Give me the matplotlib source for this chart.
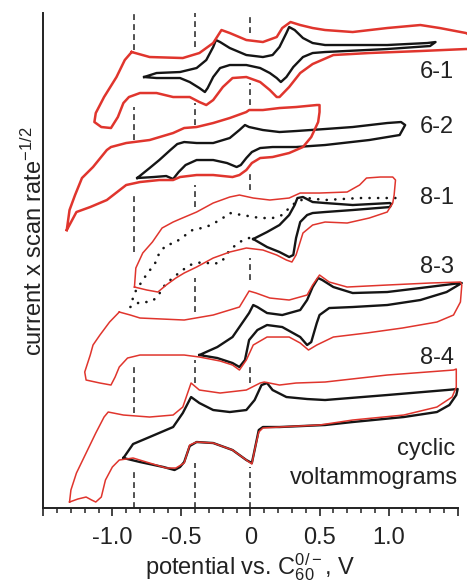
import matplotlib
matplotlib.use("Agg")
import matplotlib.pyplot as plt
from matplotlib.ticker import FixedLocator, MultipleLocator, FixedFormatter

plt.rcParams['font.family'] = ['Liberation Sans', 'DejaVu Sans']
plt.rcParams['mathtext.fontset'] = 'custom'
plt.rcParams['mathtext.rm'] = 'Liberation Sans'
plt.rcParams['mathtext.it'] = 'Liberation Sans:italic'
plt.rcParams['mathtext.default'] = 'rm'

# potential (V vs C60 0/-) and stacked current (a.u.) for each voltammogram
v61_red = [-0.86, -0.73, -0.49, -0.37, -0.27, -0.21, -0.15, -0.03, 0.09, 0.19, 0.23, 0.29, 0.36, 0.45,
           0.54, 0.74, 0.99, 1.23, 1.37, 1.56, 1.60,
           1.60, 1.56, 1.23, 0.86, 0.60, 0.45, 0.36, 0.28, 0.21, 0.19, 0.14, 0.07, -0.03, -0.13, -0.20,
           -0.27, -0.32, -0.37, -0.44, -0.56, -0.68, -0.80, -0.88, -0.92, -0.96, -1.01, -1.08, -1.13,
           -1.12, -1.06, -0.97, -0.91, -0.86]
i61_red = [456, 451, 450, 455, 465, 478, 475, 468, 466, 471, 480, 486, 483, 480,
           478, 476, 480, 483, 480, 475, 472,
           459, 459, 457, 455, 453, 444, 435, 421, 411, 411, 418, 426, 431, 430, 421,
           408, 403, 406, 411, 411, 415, 415, 411, 405, 391, 380, 381, 386,
           395, 411, 431, 448, 456]

v61_blk = [-0.77, -0.68, -0.51, -0.39, -0.32, -0.27, -0.25, -0.22, -0.15, -0.03, 0.09, 0.16, 0.21, 0.26,
           0.28, 0.32, 0.38, 0.45, 0.54, 0.99, 1.28, 1.34,
           1.30, 0.99, 0.54, 0.45, 0.38, 0.31, 0.26, 0.22, 0.19, 0.14, 0.07, -0.03, -0.15, -0.22,
           -0.27, -0.31, -0.33, -0.37, -0.44, -0.51, -0.68, -0.77]
i61_blk = [431, 435, 436, 440, 448, 461, 468, 466, 460, 453, 451, 453, 461, 475,
           481, 478, 470, 465, 463, 463, 465, 466,
           462, 459, 456, 455, 451, 441, 431, 426, 430, 435, 440, 443, 443, 440,
           431, 420, 416, 420, 426, 430, 430, 431]

v62_red = [-1.33, -1.31, -1.27, -1.22, -1.14, -1.04, -1.01, -0.90, -0.73, -0.56, -0.48, -0.39, -0.27,
           -0.15, -0.03, -0.01, 0.09, 0.21, 0.33, 0.48, 0.50,
           0.50, 0.49, 0.44, 0.38, 0.28, 0.16, 0.07, 0.01, -0.03, -0.08, -0.13, -0.27, -0.39, -0.51,
           -0.56, -0.66, -0.80, -0.90, -1.04, -1.16, -1.26, -1.33]
i62_red = [278, 298, 313, 330, 341, 358, 361, 365, 368, 375, 380, 381, 385,
           390, 396, 398, 398, 400, 401, 403, 403,
           396, 386, 371, 361, 355, 351, 350, 345, 338, 333, 331, 333, 333, 331,
           328, 328, 326, 323, 308, 301, 296, 278]

v62_blk = [-0.82, -0.73, -0.66, -0.58, -0.53, -0.48, -0.39, -0.27, -0.15, -0.08, -0.04, -0.01, 0.09,
           0.21, 0.33, 0.54, 0.74, 0.99, 1.09, 1.12,
           1.08, 0.86, 0.54, 0.33, 0.16, 0.07, 0.01, -0.03, -0.07, -0.10, -0.17, -0.27, -0.39, -0.47,
           -0.52, -0.56, -0.61, -0.70, -0.82]
i62_blk = [330, 340, 348, 358, 364, 366, 365, 365, 370, 378, 383, 381, 378,
           376, 377, 379, 381, 385, 386, 383,
           373, 368, 363, 361, 361, 360, 356, 350, 343, 341, 345, 348, 348, 343,
           336, 329, 332, 331, 330]

v81_red = [-0.84, -0.83, -0.78, -0.71, -0.64, -0.56, -0.51, -0.39, -0.27, -0.15, -0.08, 0.02, 0.14,
           0.28, 0.36, 0.50, 0.70, 0.79, 0.84, 0.94, 1.03, 1.05, 1.04, 1.03, 0.99, 0.86, 0.70, 0.54,
           0.45, 0.38, 0.33, 0.30, 0.26, 0.19, 0.09, -0.03, -0.15, -0.27, -0.39, -0.48, -0.54, -0.61,
           -0.67, -0.75, -0.84]
i81_red = [221, 240, 255, 266, 280, 286, 289, 296, 305, 311, 313, 310, 308,
           310, 315, 315, 316, 323, 330, 331, 331, 328, 313, 305, 296, 290, 285, 286,
           283, 275, 253, 246, 248, 253, 258, 260, 256, 250, 241, 235, 230, 223,
           216, 218, 221]

v81_blk = [0.02, 0.12, 0.21, 0.28, 0.32, 0.34, 0.38, 0.45, 0.54, 0.74, 1.01, 1.02,
           1.01, 0.74, 0.54, 0.45, 0.41, 0.36, 0.33, 0.31, 0.28, 0.21, 0.12, 0.02]
i81_blk = [269, 276, 283, 293, 303, 310, 311, 306, 305, 303, 305, 304,
           301, 298, 296, 295, 293, 286, 270, 253, 251, 256, 261, 269]

v81_dot = [-0.01, -0.08, -0.15, -0.21, -0.27, -0.35, -0.44, -0.51, -0.58, -0.62, -0.68, -0.73, -0.80,
           -0.87, -0.84, -0.77, -0.69, -0.66, -0.61, -0.55, -0.49, -0.42, -0.32, -0.22, -0.15, -0.06,
           0.07, 0.16, 0.23, 0.28, 0.33, 0.41, 0.54, 0.79, 1.05]
i81_dot = [270, 266, 258, 246, 244, 246, 243, 236, 228, 223, 210, 206, 206,
           201, 215, 230, 245, 255, 263, 265, 271, 278, 281, 288, 295, 293,
           290, 290, 293, 300, 306, 310, 308, 310, 310]

v83_red = [-0.95, -1.02, -1.09, -1.14, -1.16, -1.20, -1.19, -1.09, -1.01, -0.98, -0.95, -0.89, -0.80,
           -0.48, -0.37, -0.22, -0.13, -0.08, -0.03, 0.02, 0.12, 0.28, 0.36, 0.42, 0.48, 0.60, 0.84,
           1.10, 1.35, 1.47, 1.52, 1.53, 1.52, 1.30, 0.99, 0.70, 0.57, 0.50, 0.45, 0.41, 0.28, 0.14,
           0.04, -0.01, -0.08, -0.27, -0.48, -0.80, -0.87, -0.95]
i83_red = [196, 186, 173, 163, 153, 136, 128, 125, 123, 131, 141, 150, 153,
           153, 151, 147, 143, 138, 148, 163, 171, 171, 165, 158, 163, 171, 175,
           180, 186, 193, 206, 223, 226, 225, 223, 221, 226, 233, 223, 213, 208, 210,
           215, 217, 201, 193, 188, 190, 193, 196]

v83_blk = [-0.37, -0.24, -0.13, -0.06, -0.01, 0.02, 0.05, 0.12, 0.23, 0.36, 0.41, 0.45, 0.49, 0.52,
           0.60, 0.74, 0.99, 1.23, 1.52,
           1.53, 1.42, 1.23, 0.99, 0.74, 0.57, 0.50, 0.48, 0.44, 0.41, 0.36, 0.23, 0.12, 0.05, -0.01,
           -0.04, -0.08, -0.13, -0.24, -0.37]
i83_blk = [153, 161, 171, 185, 195, 203, 201, 195, 193, 198, 208, 221, 230, 228,
           221, 215, 216, 220, 225,
           225, 216, 208, 203, 201, 200, 193, 185, 166, 163, 171, 181, 183, 178, 168,
           148, 141, 145, 150, 153]

v84_red = [-1.31, -1.30, -1.26, -1.19, -1.12, -1.06, -1.03, -0.92, -0.73, -0.56, -0.49, -0.46, -0.43,
           -0.37, -0.22, -0.03, 0.07, 0.10, 0.21, 0.33, 0.54, 0.99, 1.47, 1.49, 1.49, 1.46, 1.35, 1.11,
           0.74, 0.50, 0.21, 0.09, 0.06, 0.03, 0.01, -0.03, -0.13, -0.27, -0.39, -0.44, -0.48, -0.54,
           -0.61, -0.73, -0.85, -0.95, -1.00, -1.05, -1.08, -1.12, -1.15, -1.19, -1.25, -1.31]
i84_red = [6, 18, 35, 55, 75, 91, 96, 93, 91, 93, 101, 113, 125,
           118, 115, 118, 125, 126, 123, 125, 126, 133, 138, 139, 121, 111, 101, 93,
           88, 83, 81, 80, 76, 58, 44, 48, 58, 65, 66, 63, 45, 40,
           40, 45, 50, 48, 41, 28, 11, 6, 8, 11, 9, 6]

v84_blk = [-0.92, -0.85, -0.73, -0.56, -0.49, -0.46, -0.43, -0.37, -0.27, -0.15, -0.03, 0.03, 0.08,
           0.12, 0.16, 0.26, 0.41, 0.54, 0.99, 1.42, 1.50,
           1.49, 1.44, 1.35, 1.11, 0.74, 0.54, 0.21, 0.09, 0.06, 0.03, 0.01, -0.03, -0.13, -0.27,
           -0.39, -0.44, -0.48, -0.51, -0.55, -0.63, -0.80, -0.92]
i84_blk = [50, 64, 71, 81, 95, 103, 111, 105, 98, 96, 98, 108, 123,
           125, 118, 111, 109, 108, 113, 118, 119,
           113, 103, 96, 91, 86, 83, 81, 81, 78, 58, 45, 48, 58, 65,
           66, 62, 46, 41, 38, 41, 46, 50]

sample_names = ["6-1", "6-2", "8-1", "8-3", "8-4"]
ref_potentials = [-0.84, -0.40, 0.0]

red = "#e0352d"
black = "#151515"

fig = plt.figure(figsize=(4.67, 5.84), dpi=100)
ax = fig.add_axes([0.0927, 0.1301, 0.8873, 0.8476])

# dashed guide lines, broken where they would run through the traces
guide_parts = {
    -0.84: [(458, 495), (368, 401), (256, 315), (95, 141), (0, 38)],
    -0.40: [(461, 495), (383, 405), (301, 323), (196, 230), (125, 148), (0, 45)],
    0.0: [(475, 495), (403, 425), (318, 336), (228, 250), (125, 145), (0, 41)],
}
for e in ref_potentials:
    for lo, hi in guide_parts[e]:
        ax.plot([e, e], [lo, hi], color="#333333", lw=1.2, ls=(0, (3.5, 2.5)), zorder=1)

black_curves = [(v61_blk, i61_blk), (v62_blk, i62_blk), (v81_blk, i81_blk),
                (v83_blk, i83_blk), (v84_blk, i84_blk)]
for v, i in black_curves:
    ax.plot(v, i, color=black, lw=1.7, clip_on=False, solid_joinstyle="round", zorder=3)

# 8-1 reference scan, drawn as small round dots
ax.plot(v81_dot, i81_dot, color=black, lw=1.9, ls=(0, (0.05, 3.2)), dash_capstyle="round",
        clip_on=False, zorder=3)

for v, i in [(v61_red, i61_red), (v62_red, i62_red)]:
    ax.plot(v, i, color=red, lw=1.8, clip_on=False, solid_joinstyle="round", zorder=4)
for v, i in [(v81_red, i81_red), (v83_red, i83_red), (v84_red, i84_red)]:
    ax.plot(v, i, color=red, lw=1.1, clip_on=False, solid_joinstyle="round", zorder=4)

label_y = [436, 381, 310, 241, 150]
for name, y in zip(sample_names, label_y):
    ax.text(1.475, y, name, ha="right", va="center", fontsize=17, color="#222222")
ax.text(1.48, 53, "cyclic", ha="right", va="baseline", fontsize=17, color="#222222")
ax.text(1.50, 24, "voltammograms", ha="right", va="baseline", fontsize=17, color="#222222")

ax.set_xlim(-1.5, 1.5)
ax.set_ylim(0, 495)
ax.spines["top"].set_visible(False)
ax.spines["right"].set_visible(False)
for s in ["left", "bottom"]:
    ax.spines[s].set_linewidth(1.4)
    ax.spines[s].set_color("#222222")

ax.xaxis.set_major_locator(FixedLocator([-1.5, -1.0, -0.5, 0.0, 0.5, 1.0, 1.5]))
ax.xaxis.set_major_formatter(FixedFormatter(["", "-1.0", "-0.5", "0", "0.5", "1.0", ""]))
ax.xaxis.set_minor_locator(MultipleLocator(0.1))
ax.tick_params(axis="x", which="major", direction="out", length=6, width=1.2,
               labelsize=17, pad=8, colors="#222222")
ax.tick_params(axis="x", which="minor", direction="out", length=3.5, width=1.1, colors="#222222")
ax.tick_params(axis="y", left=False, labelleft=False)

fig.text(41.5 / 467, 1 - 241.5 / 584, "current x scan rate$^{-1/2}$", rotation=90,
         rotation_mode="anchor", ha="center", va="baseline", fontsize=17, color="#222222")
fig.text(250.5 / 467, 1 - 574 / 584, "potential vs. C$_{60}^{0/-}$, V",
         ha="center", va="baseline", fontsize=17, color="#222222")

fig.savefig("out.png", dpi=100)
